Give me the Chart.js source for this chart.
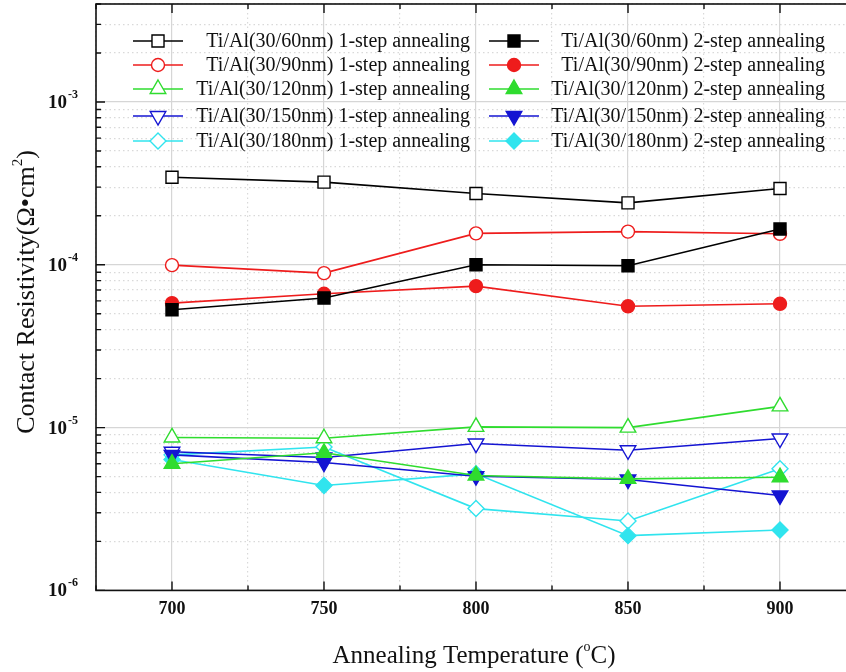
<!DOCTYPE html>
<html>
<head>
<meta charset="utf-8">
<script src="https://cdn.jsdelivr.net/npm/chart.js@4/dist/chart.umd.min.js"></script>
<style>
  html, body { margin: 0; padding: 0; overflow: hidden; background: #fff; }
  #wrap { width: 870px; height: 672px; }
</style>
</head>
<body>
<div id="wrap"><canvas id="resistivity-chart"></canvas></div>
<script>
// annealing temperatures (°C)
const temperatures = [700, 750, 800, 850, 900];
const yTickExponents = [-6, -5, -4, -3];
const thicknesses = ['60', '90', '120', '150', '180'];

// contact resistivity (ohm cm^2)
const al60OneStep = [3.45e-4, 3.22e-4, 2.74e-4, 2.40e-4, 2.94e-4];
const al60TwoStep = [5.30e-5, 6.25e-5, 1.00e-4, 9.86e-5, 1.66e-4];
const al90OneStep = [9.95e-5, 8.89e-5, 1.56e-4, 1.60e-4, 1.55e-4];
const al90TwoStep = [5.82e-5, 6.64e-5, 7.40e-5, 5.56e-5, 5.76e-5];
const al120OneStep = [8.7e-6, 8.6e-6, 1.01e-5, 1.0e-5, 1.35e-5];
const al120TwoStep = [6.0e-6, 7.0e-6, 5.08e-6, 4.84e-6, 4.96e-6];
const al150OneStep = [7.1e-6, 6.55e-6, 7.98e-6, 7.26e-6, 8.57e-6];
const al150TwoStep = [6.8e-6, 6.1e-6, 5.03e-6, 4.8e-6, 3.83e-6];
const al180OneStep = [6.8e-6, 7.6e-6, 3.18e-6, 2.67e-6, 5.59e-6];
const al180TwoStep = [6.37e-6, 4.41e-6, 5.2e-6, 2.17e-6, 2.35e-6];

const oneStepData = [al60OneStep, al90OneStep, al120OneStep, al150OneStep, al180OneStep];
const twoStepData = [al60TwoStep, al90TwoStep, al120TwoStep, al150TwoStep, al180TwoStep];

const colors = ['#000000', '#ee1c1c', '#2fdc2f', '#1414d2', '#30e4ee'];
const markers = [
    { style: 'rect', rotation: 0, radius: 8.5 },
    { style: 'circle', rotation: 0, radius: 6.5 },
    { style: 'triangle', rotation: 0, radius: 9 },
    { style: 'triangle', rotation: 180, radius: 9 },
    { style: 'rectRot', rotation: 0, radius: 8 },
];

const serif = "'Liberation Serif', 'Times New Roman', serif";

function makeDataset(values, row, filled) {
    const color = colors[row];
    const m = markers[row];
    return {
        label: 'Ti/Al(30/' + thicknesses[row] + 'nm) ' + (filled ? '2' : '1') + '-step annealing',
        data: temperatures.map((t, i) => ({ x: t, y: values[i] })),
        borderColor: color,
        backgroundColor: color,
        borderWidth: 1.6,
        pointStyle: m.style,
        pointRotation: m.rotation,
        pointRadius: m.radius,
        pointHoverRadius: m.radius,
        pointBackgroundColor: filled ? color : '#ffffff',
        pointBorderColor: color,
        pointBorderWidth: 1.4,
        tension: 0,
        fill: false,
        clip: false,
        legendRow: row,
        legendCol: filled ? 1 : 0,
    };
}

const datasets = [];
for (let i = 0; i < thicknesses.length; i++) {
    datasets.push(makeDataset(twoStepData[i], i, true));
    datasets.push(makeDataset(oneStepData[i], i, false));
}

function drawMarker(ctx, style, rotation, x, y, r) {
    ctx.beginPath();
    if (style === 'circle') {
        ctx.arc(x, y, r, 0, Math.PI * 2);
    } else if (style === 'rect') {
        const s = Math.SQRT1_2 * r;
        ctx.rect(x - s, y - s, 2 * s, 2 * s);
    } else if (style === 'rectRot') {
        ctx.moveTo(x, y - r);
        ctx.lineTo(x + r, y);
        ctx.lineTo(x, y + r);
        ctx.lineTo(x - r, y);
    } else {
        let rad = rotation * Math.PI / 180;
        for (let k = 0; k < 3; k++) {
            const px = x + Math.sin(rad) * r;
            const py = y - Math.cos(rad) * r;
            if (k === 0) ctx.moveTo(px, py); else ctx.lineTo(px, py);
            rad += Math.PI * 2 / 3;
        }
    }
    ctx.closePath();
}

const legendRowsY = [41, 65, 89, 116, 141];
const legendCols = [
    { lineFrom: 133, lineTo: 183, textRight: 470 },
    { lineFrom: 489, lineTo: 539, textRight: 825 },
];

const decorPlugin = {
    id: 'decor',
    afterDatasetsDraw(chart) {
        const { ctx, chartArea: a, scales: { x, y } } = chart;
        ctx.save();
        // inward ticks
        ctx.strokeStyle = '#111';
        ctx.lineWidth = 1.4;
        ctx.beginPath();
        x.ticks.forEach((t) => {
            const px = x.getPixelForValue(t.value);
            const len = t.value % 50 === 0 ? 9 : 5;
            ctx.moveTo(px, a.bottom);
            ctx.lineTo(px, a.bottom - len);
            ctx.moveTo(px, a.top);
            ctx.lineTo(px, a.top + len);
        });
        y.ticks.forEach((t) => {
            const py = y.getPixelForValue(t.value);
            const len = t.decade ? 9 : 5;
            ctx.moveTo(a.left, py);
            ctx.lineTo(a.left + len, py);
            ctx.moveTo(a.right, py);
            ctx.lineTo(a.right - len, py);
        });
        ctx.stroke();
        // frame
        ctx.lineWidth = 1.6;
        ctx.strokeRect(a.left, a.top, a.right - a.left, a.bottom - a.top);
        ctx.restore();
    },
    afterDraw(chart) {
        const { ctx, scales: { y } } = chart;
        ctx.save();
        ctx.fillStyle = '#111';

        // y tick labels 10^n
        yTickExponents.forEach((e) => {
            const py = y.getPixelForValue(Math.pow(10, e));
            const sup = String(e);
            ctx.font = 'bold 12px ' + serif;
            const supW = ctx.measureText(sup).width;
            ctx.textBaseline = 'middle';
            ctx.textAlign = 'left';
            ctx.fillText(sup, 78 - supW, py - 7);
            ctx.font = 'bold 19px ' + serif;
            ctx.textAlign = 'right';
            ctx.fillText('10', 77 - supW, py + 1);
        });

        // x title
        ctx.textBaseline = 'alphabetic';
        const xt1 = 'Annealing Temperature (';
        const xt2 = 'o';
        const xt3 = 'C)';
        ctx.font = '25px ' + serif;
        const w1 = ctx.measureText(xt1).width;
        const w3 = ctx.measureText(xt3).width;
        ctx.font = '14px ' + serif;
        const w2 = ctx.measureText(xt2).width;
        const sx = 474 - (w1 + w2 + w3) / 2;
        const baseX = 663;
        ctx.textAlign = 'left';
        ctx.font = '25px ' + serif;
        ctx.fillText(xt1, sx, baseX);
        ctx.font = '14px ' + serif;
        ctx.fillText(xt2, sx + w1, baseX - 12);
        ctx.font = '25px ' + serif;
        ctx.fillText(xt3, sx + w1 + w2, baseX);

        // y title
        ctx.save();
        ctx.translate(34, 292);
        ctx.rotate(-Math.PI / 2);
        const yt1 = 'Contact Resistivity(\u03A9\u2022cm';
        const yt2 = '2';
        const yt3 = ')';
        ctx.font = '26px ' + serif;
        const v1 = ctx.measureText(yt1).width;
        const v3 = ctx.measureText(yt3).width;
        ctx.font = '15px ' + serif;
        const v2 = ctx.measureText(yt2).width;
        const sy = -(v1 + v2 + v3) / 2;
        ctx.font = '26px ' + serif;
        ctx.fillText(yt1, sy, 0);
        ctx.font = '15px ' + serif;
        ctx.fillText(yt2, sy + v1, -12);
        ctx.font = '26px ' + serif;
        ctx.fillText(yt3, sy + v1 + v2, 0);
        ctx.restore();

        // legend
        chart.data.datasets.forEach((ds) => {
            const col = legendCols[ds.legendCol];
            const ly = legendRowsY[ds.legendRow];
            ctx.strokeStyle = ds.borderColor;
            ctx.lineWidth = 1.6;
            ctx.beginPath();
            ctx.moveTo(col.lineFrom, ly);
            ctx.lineTo(col.lineTo, ly);
            ctx.stroke();
            const mx = (col.lineFrom + col.lineTo) / 2;
            drawMarker(ctx, ds.pointStyle, ds.pointRotation, mx, ly, ds.pointRadius);
            ctx.fillStyle = ds.pointBackgroundColor;
            ctx.fill();
            ctx.lineWidth = 1.4;
            ctx.stroke();
            ctx.fillStyle = '#111';
            ctx.font = '20px ' + serif;
            ctx.textAlign = 'right';
            ctx.textBaseline = 'middle';
            ctx.fillText(ds.label, col.textRight, ly + 1);
        });
        ctx.restore();
    },
};

const yTickValues = [];
yTickExponents.forEach((e) => {
    for (let m = 1; m <= 9; m++) {
        const v = m * Math.pow(10, e);
        if (v <= 4.0001e-3) yTickValues.push({ value: v, decade: m === 1 });
    }
});

new Chart(document.getElementById('resistivity-chart'), {
    type: 'line',
    data: { datasets: datasets },
    options: {
        responsive: true,
        maintainAspectRatio: false,
        animation: false,
        devicePixelRatio: 1,
        layout: { autoPadding: false, padding: { left: 96, top: 4, right: 14, bottom: 44 } },
        plugins: {
            legend: { display: false },
            tooltip: { enabled: false },
        },
        scales: {
            x: {
                type: 'linear',
                min: 675,
                max: 925,
                ticks: {
                    stepSize: 25,
                    autoSkip: false,
                    maxRotation: 0,
                    padding: 8,
                    color: '#111',
                    font: { family: serif, size: 18, weight: 'bold' },
                    callback: (v) => (v % 50 === 0 ? String(v) : ''),
                },
                grid: {
                    drawTicks: false,
                    lineWidth: 1.2,
                    color: (c) => (c.tick && c.tick.value % 50 === 0 ? '#d6d6d6' : '#d9d9d9'),
                },
                border: {
                    display: false,
                    dash: (c) => (c.tick && c.tick.value % 50 === 0 ? [] : [1.5, 3]),
                },
            },
            y: {
                type: 'logarithmic',
                min: 1e-6,
                max: 4e-3,
                afterBuildTicks: (scale) => {
                    scale.ticks = yTickValues.map((t) => ({ value: t.value, decade: t.decade, major: t.decade }));
                },
                ticks: { display: false },
                grid: {
                    drawTicks: false,
                    lineWidth: 1.2,
                    color: (c) => (c.tick && c.tick.decade ? '#d6d6d6' : '#d9d9d9'),
                },
                border: {
                    display: false,
                    dash: (c) => (c.tick && c.tick.decade ? [] : [1.5, 3]),
                },
            },
        },
    },
    plugins: [decorPlugin],
});
</script>
</body>
</html>
